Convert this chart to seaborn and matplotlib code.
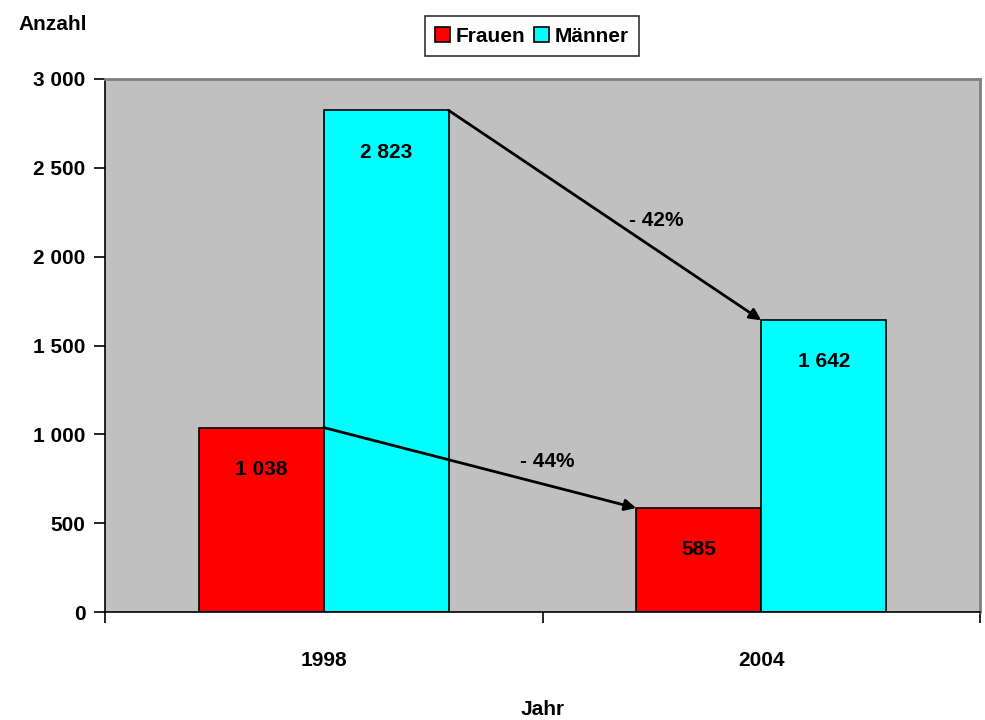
import pandas as pd
import matplotlib
matplotlib.use("Agg")
import matplotlib.pyplot as plt
import seaborn as sns

# data
years = ["1998", "2004"]
frauen = [1038, 585]
maenner = [2823, 1642]
series = ["Frauen", "Männer"]
changes = ["- 44%", "- 42%"]
y_ticks = [0, 500, 1000, 1500, 2000, 2500, 3000]

colors = {"Frauen": "#FF0000", "Männer": "#00FFFF"}
BAR_W = 1 / 1.75  # excel gap width 75%

sns.set_theme(style="white", rc={"text.color": "black", "axes.labelcolor": "black",
                                 "xtick.color": "black", "ytick.color": "black",
                                 "xtick.bottom": True, "ytick.left": True})
plt.rcParams['font.family'] = ['Liberation Sans Narrow', 'Liberation Sans', 'DejaVu Sans']
plt.rcParams['font.weight'] = 'bold'
FS = 15


def fmt(v):
    return f"{v:,}".replace(",", " ")


df = pd.DataFrame({
    "Jahr": years * 2,
    "Geschlecht": [series[0]] * 2 + [series[1]] * 2,
    "Anzahl": frauen + maenner,
})

fig = plt.figure(figsize=(9.85, 7.2), dpi=100)
ax = fig.add_axes([105 / 985, 1 - 612 / 720, 875 / 985, 533 / 720])
ax.set_facecolor("#C0C0C0")

sns.barplot(data=df, x="Jahr", y="Anzahl", hue="Geschlecht", palette=colors,
            width=BAR_W, gap=0, edgecolor="black", linewidth=1.2,
            saturation=1, ax=ax, legend=True)

ax.set_xlim(-0.5, 1.5)
ax.set_ylim(0, 3000)
ax.set_yticks(y_ticks)
ax.set_yticklabels([fmt(v) for v in y_ticks], fontsize=FS, fontweight="bold", color="black")
ax.set_xticks([0, 1])
ax.set_xticklabels(years, fontsize=FS, fontweight="bold", color="black")
ax.tick_params(axis="x", which="major", length=0, pad=28)
# category boundary ticks
ax.set_xticks([-0.5, 0.5, 1.5], minor=True)
ax.tick_params(axis="x", which="minor", bottom=True, length=8, width=1.2,
               direction="out", color="black")
ax.tick_params(axis="y", left=True, length=8, width=1.2, direction="out",
               color="black", pad=6)

for side in ["top", "right"]:
    ax.spines[side].set_color("#808080")
    ax.spines[side].set_linewidth(2)
for side in ["left", "bottom"]:
    ax.spines[side].set_color("black")
    ax.spines[side].set_linewidth(1.2)

ax.set_xlabel("Jahr", fontsize=FS, fontweight="bold", labelpad=22, color="black")
ax.set_ylabel("")
fig.text(18 / 985, 1 - 24 / 720, "Anzahl", fontsize=FS, fontweight="bold",
         va="center", color="black")

# value labels inside bars
for cont in ax.containers:
    for bar in cont:
        h = bar.get_height()
        ax.annotate(fmt(int(round(h))), (bar.get_x() + bar.get_width() / 2, h),
                    xytext=(0, -30), textcoords="offset points",
                    ha="center", va="center", fontsize=FS, fontweight="bold",
                    color="black")

# arrows from 1998 bar top-right to 2004 bar top-left
half = BAR_W / 2
for i, vals in enumerate([frauen, maenner]):
    x0 = -half + (i + 1) * half
    x1 = 1 - half + i * half
    ax.annotate("", xy=(x1, vals[1]), xytext=(x0, vals[0]),
                arrowprops=dict(arrowstyle="-|>", color="black", lw=2,
                                mutation_scale=17, shrinkA=0, shrinkB=0))

# percentage labels
ax.text(0.51, 845, changes[0], ha="center", va="center", fontsize=FS,
        fontweight="bold", color="black")
ax.text(1.26 - 0.5 - 0.0, 2205, changes[1], ha="center", va="center",
        fontsize=FS, fontweight="bold", color="black")

leg = ax.legend(loc="center", bbox_to_anchor=(532 / 985, 1 - 36 / 720),
                bbox_transform=fig.transFigure, ncol=2, frameon=True,
                fancybox=False, edgecolor="black", handlelength=0.7,
                handleheight=0.7, handletextpad=0.3, columnspacing=0.4,
                borderpad=0.5, prop={"size": FS, "weight": "bold"})
leg.get_frame().set_linewidth(1.2)
for t in leg.get_texts():
    t.set_color("black")

fig.savefig("out.png", dpi=100, facecolor="white")
